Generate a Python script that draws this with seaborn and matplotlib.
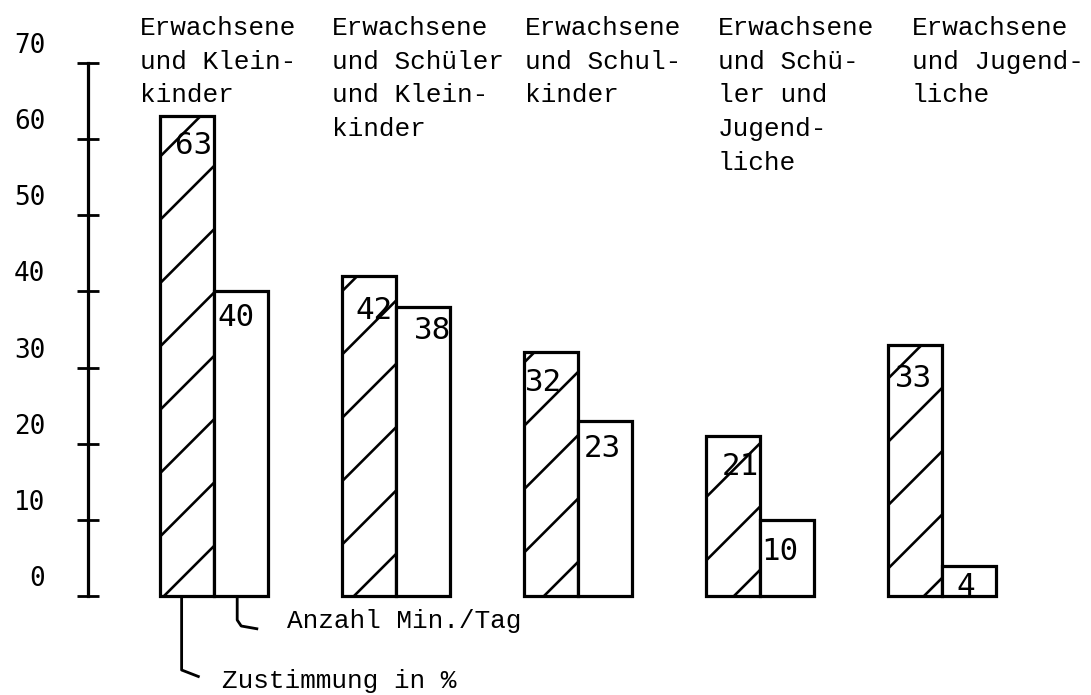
import numpy as np
import pandas as pd
import matplotlib
matplotlib.use("Agg")
import matplotlib.pyplot as plt
import seaborn as sns

# ---------------- data ----------------
categories = [
    "Erwachsene\nund Klein-\nkinder",
    "Erwachsene\nund Schüler\nund Klein-\nkinder",
    "Erwachsene\nund Schul-\nkinder",
    "Erwachsene\nund Schü-\nler und\nJugend-\nliche",
    "Erwachsene\nund Jugend-\nliche",
]
series = ["Zustimmung in %", "Anzahl Min./Tag"]
zustimmung = [63, 42, 32, 21, 33]
minuten = [40, 38, 23, 10, 4]
yticks = [0, 10, 20, 30, 40, 50, 60, 70]
ytick_labels = ["0", "10", "20", "30", "40", "50", "60", "70"]

# ---------------- layout (pixels) ----------------
DPI = 380
W, H = 1091, 695
C0, STEP = 214.0, 182.0          # first group centre, group spacing (px)
Y0, PXU = 596.0, 7.614           # y of value 0 (px from top), px per unit
cat_label_x = [140, 332, 525, 718, 912]
label_dx = [[15, 13, 1, 16, 7], [3, 18, 6, 1, 14]]
label_dy = [[15, 20, 16, 16, 19], [12, 9, 13, 17, 6]]


def pt(px):
    return px * 72.0 / DPI


def xd(px):
    return (px - C0) / STEP


def yd(py):
    return (Y0 - py) / PXU


sns.set_theme(style="white")
plt.rcParams["hatch.linewidth"] = pt(2.6)
plt.rcParams["hatch.color"] = "black"

MONO_SERIF = ["Liberation Mono", "DejaVu Sans Mono"]
MONO_SANS = ["DejaVu Sans Mono", "DejaVu Sans"]

fig = plt.figure(figsize=(W / DPI, H / DPI), dpi=DPI)
ax = fig.add_axes([0, 0, 1, 1])
ax.set_facecolor("white")

df = pd.DataFrame({
    "Gruppe": categories * 2,
    "Wert": zustimmung + minuten,
    "Reihe": [series[0]] * len(categories) + [series[1]] * len(categories),
})

sns.barplot(data=df, x="Gruppe", y="Wert", hue="Reihe", order=categories,
            hue_order=series, palette=["white", "white"], saturation=1,
            edgecolor="black", linewidth=pt(3.2), width=0.593, gap=0,
            legend=False, errorbar=None, ax=ax)

for bar in ax.containers[0]:
    bar.set_hatch("//")

ax.set_xlim(xd(0), xd(W))
ax.set_ylim(yd(H), yd(0))
ax.set_xticks([])
ax.set_xlabel("")
ax.set_ylabel("")
ax.grid(False)

for s in ["top", "right", "bottom"]:
    ax.spines[s].set_visible(False)
ax.spines["left"].set_position(("data", xd(88)))
ax.spines["left"].set_bounds(yticks[0], yticks[-1])
ax.spines["left"].set_linewidth(pt(3.2))
ax.spines["left"].set_color("black")
ax.set_yticks(yticks)
ax.tick_params(axis="y", direction="inout", length=pt(22), width=pt(2.8),
               color="black", labelleft=False, left=True)

# y tick labels (typed slightly above the ticks)
for v, lab in zip(yticks, ytick_labels):
    ax.text(xd(45), v + 17 / PXU, lab, ha="right", va="center",
            family=MONO_SANS, fontsize=pt(26), color="black")

# value labels inside the bars
for k, cont in enumerate(ax.containers):
    for j, bar in enumerate(cont):
        val = bar.get_height()
        ax.annotate(f"{val:.0f}", xy=(bar.get_x(), val),
                    xytext=(pt(label_dx[k][j]), -pt(label_dy[k][j])),
                    textcoords="offset points", ha="left", va="top",
                    family=MONO_SANS, fontsize=pt(31), color="black")

# category labels at the top
for j, cat in enumerate(categories):
    for li, line in enumerate(cat.split("\n")):
        ax.text(xd(cat_label_x[j]), yd(35 + li * 33.75), line,
                ha="left", va="baseline", family=MONO_SERIF,
                fontsize=pt(26.2), color="black")

# legend leaders below the first group
bh = ax.containers[0][0]
bo = ax.containers[1][0]
xh = bh.get_x() + bh.get_width() * 0.4
xo = bo.get_x() + bo.get_width() * 0.43
lw = pt(2.8)
ax.plot([xh, xh, xh + 18 / STEP], [0, yd(670), yd(677)],
        color="black", lw=lw, solid_capstyle="butt", clip_on=False)
ax.plot([xo, xo, xo + 4 / STEP, xo + 21 / STEP],
        [0, yd(620), yd(626), yd(629)],
        color="black", lw=lw, solid_capstyle="butt", clip_on=False)
ax.text(xd(287), yd(628), series[1], ha="left", va="baseline",
        family=MONO_SERIF, fontsize=pt(26.2), color="black")
ax.text(xd(222), yd(688), series[0], ha="left", va="baseline",
        family=MONO_SERIF, fontsize=pt(26.2), color="black")

fig.savefig("out.png", dpi=DPI, facecolor="white")
